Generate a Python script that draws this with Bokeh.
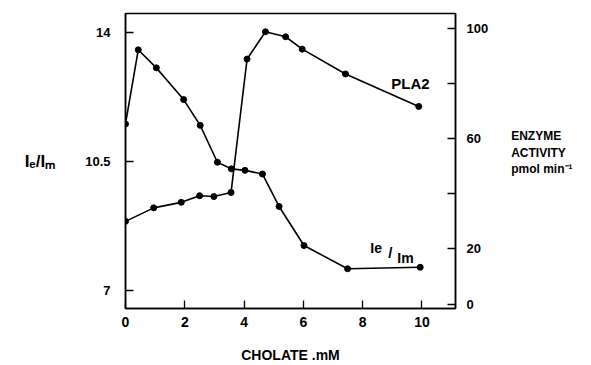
from bokeh.plotting import figure
from bokeh.models import Range1d, LinearAxis, FixedTicker, Label
from bokeh.embed import file_html
from bokeh.resources import INLINE

# Cholate (mM) and excimer/monomer ratio Ie/Im (left axis)
ie_x = [0.0, 0.43, 1.04, 1.96, 2.52, 3.10, 3.57, 4.03, 4.62, 5.18, 6.02, 7.49, 9.94]
ie_y = [11.52, 13.53, 13.04, 12.18, 11.48, 10.48, 10.30, 10.26, 10.16, 9.28, 8.22, 7.59, 7.63]

# Cholate (mM) and PLA2 enzyme activity, pmol/min (right axis)
pla_x = [0.0, 0.95, 1.88, 2.50, 2.98, 3.56, 4.10, 4.72, 5.40, 5.96, 7.42, 9.89]
pla_y = [30.0, 34.9, 36.9, 39.3, 39.0, 40.5, 88.9, 98.8, 97.0, 92.5, 83.5, 71.7]

x_ticks = [0, 2, 4, 6, 8, 10]
left_ticks = [7, 10.5, 14]
right_ticks = [0, 20, 40, 60, 80, 100]
right_tick_labels = {0: "0", 20: "20", 40: "", 60: "60", 80: "", 100: "100"}

FONT = "Liberation Sans"

p = figure(width=591, height=365, output_backend="svg", toolbar_location=None,
           x_range=Range1d(0, 11.13), y_range=Range1d(6.512, 14.515),
           min_border_left=125, min_border_right=136, min_border_top=13,
           min_border_bottom=57)
p.extra_y_ranges = {"act": Range1d(-1.63, 105.44)}

p.grid.visible = False
p.background_fill_color = "white"
p.border_fill_color = "white"
p.outline_line_color = "black"
p.outline_line_width = 1.5

def style_axis(ax, size):
    ax.major_tick_in = 8
    ax.major_tick_out = 0
    ax.minor_tick_line_color = None
    ax.axis_line_color = "black"
    ax.axis_line_width = 1.5
    ax.major_tick_line_color = "black"
    ax.major_tick_line_width = 1.3
    ax.major_label_text_font = FONT
    ax.major_label_text_font_style = "bold"
    ax.major_label_text_font_size = size
    ax.major_label_text_color = "black"
    ax.axis_label_text_font = FONT
    ax.axis_label_text_font_style = "bold"
    ax.axis_label_text_color = "black"

xa = p.xaxis[0]
xa.ticker = FixedTicker(ticks=x_ticks)
style_axis(xa, "14px")
xa.major_label_standoff = 8
xa.axis_label = "CHOLATE .mM"
xa.axis_label_text_font_size = "14px"
xa.axis_label_standoff = 17

ya = p.yaxis[0]
ya.ticker = FixedTicker(ticks=left_ticks)
ya.major_label_overrides = {7: "7", 10.5: "10.5", 14: "14"}
style_axis(ya, "13px")
ya.major_label_standoff = 15
ya.axis_label = "I\u2091/I\u2098"
ya.axis_label_orientation = "horizontal"
ya.axis_label_text_font_size = "17px"
ya.axis_label_standoff = 27

ra = LinearAxis(y_range_name="act", ticker=FixedTicker(ticks=right_ticks))
ra.major_label_overrides = right_tick_labels
style_axis(ra, "13px")
ra.major_label_standoff = 11
ra.axis_label = "ENZYME\nACTIVITY\npmol min\u207b\u00b9\n"
ra.axis_label_orientation = "horizontal"
ra.axis_label_text_font_size = "12px"
ra.axis_label_standoff = 20
p.add_layout(ra, "right")

# curves
p.line(ie_x, ie_y, line_color="black", line_width=1.6)
p.scatter(ie_x, ie_y, size=6, color="black")
p.line(pla_x, pla_y, line_color="black", line_width=1.6, y_range_name="act")
p.scatter(pla_x, pla_y, size=6, color="black", y_range_name="act")

# helper: page pixel -> data coordinates on default ranges (annotation placement)
def px(xp):
    return (xp - 125) / 29.67
def py(yp):
    return 6.512 + (308 - yp) / 36.86

def lab(text, xp, yp, size, style="bold"):
    p.add_layout(Label(x=px(xp), y=py(yp), text=text, text_font=FONT,
                       text_font_style=style, text_font_size=size,
                       text_color="black", text_align="left",
                       text_baseline="alphabetic"))

# curve labels
lab("PLA2", 391, 83, "15px")
lab("Ie", 370, 248, "14px")
lab("/", 388, 252, "15px")
lab("Im", 397, 258, "14px")

open("out.html", "w").write(file_html(p, INLINE))
